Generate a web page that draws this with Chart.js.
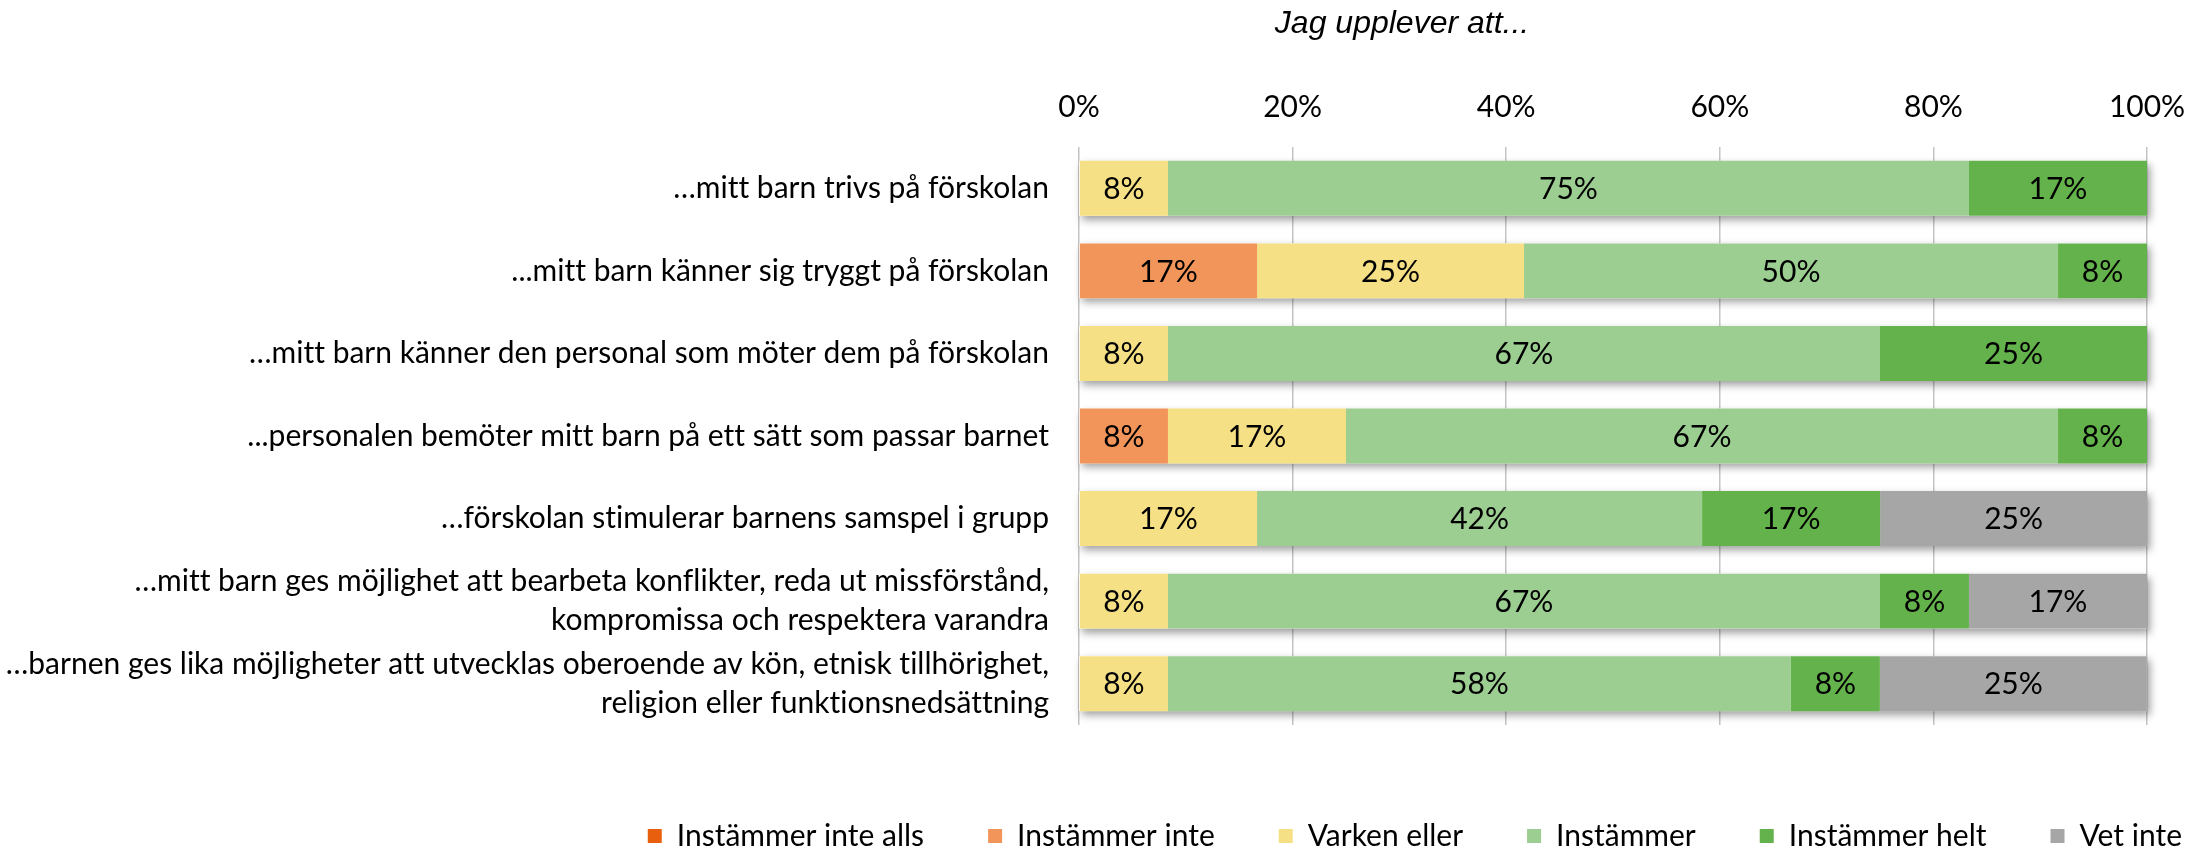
<!DOCTYPE html>
<html>
<head>
<meta charset="utf-8">
<script src="https://cdn.jsdelivr.net/npm/chart.js@4/dist/chart.umd.min.js"></script>
<style>
  body { margin: 0; background: #fff; }
  #wrap { width: 2200px; height: 847px; position: relative; }
  canvas { font-variant-ligatures: none; }
</style>
</head>
<body>
<div id="wrap"><canvas id="likertChart"></canvas></div>
<script>
// Data
const categories = [
  '…mitt barn trivs på förskolan',
  '...mitt barn känner sig tryggt på förskolan',
  '…mitt barn känner den personal som möter dem på förskolan',
  '...personalen bemöter mitt barn på ett sätt som passar barnet',
  '…förskolan stimulerar barnens samspel i grupp',
  ['…mitt barn ges möjlighet att bearbeta konflikter, reda ut missförstånd,', 'kompromissa och respektera varandra'],
  ['…barnen ges lika möjligheter att utvecklas oberoende av kön, etnisk tillhörighet,', 'religion eller funktionsnedsättning']
];
const seriesNames = ['Instämmer inte alls', 'Instämmer inte', 'Varken eller', 'Instämmer', 'Instämmer helt', 'Vet inte'];
const instammerInteAlls = [0, 0, 0, 0, 0, 0, 0];
const instammerInte     = [0, 16.67, 0, 8.33, 0, 0, 0];
const varkenEller       = [8.33, 25, 8.33, 16.67, 16.67, 8.33, 8.33];
const instammer         = [75, 50, 66.67, 66.67, 41.67, 66.67, 58.33];
const instammerHelt     = [16.67, 8.33, 25, 8.33, 16.67, 8.33, 8.33];
const vetInte           = [0, 0, 0, 0, 25, 16.67, 25];
const xTicks = [0, 20, 40, 60, 80, 100];
const chartTitle = 'Jag upplever att...';

const colors = ['#E8600E', '#F2955B', '#F6E086', '#9CCD91', '#64B24C', '#A6A6A6'];
const seriesData = [instammerInteAlls, instammerInte, varkenEller, instammer, instammerHelt, vetInte];
const labelFont = "Lato, 'Open Sans', sans-serif";

// soft shadow under each whole bar row
const barShadow = {
  id: 'barShadow',
  beforeDatasetsDraw(chart) {
    const ctx = chart.ctx;
    const metas = chart.getSortedVisibleDatasetMetas();
    ctx.save();
    ctx.shadowColor = 'rgba(0,0,0,0.38)';
    ctx.shadowBlur = 8;
    ctx.shadowOffsetX = 3;
    ctx.shadowOffsetY = 4;
    ctx.fillStyle = '#ffffff';
    categories.forEach((c, i) => {
      let left = Infinity, right = -Infinity, top = 0, h = 0;
      metas.forEach(m => {
        const el = m.data[i];
        if (!el) return;
        const props = el.getProps(['x', 'y', 'base', 'height'], true);
        left = Math.min(left, props.base, props.x);
        right = Math.max(right, props.base, props.x);
        top = props.y - props.height / 2;
        h = props.height;
      });
      ctx.fillRect(left, top, right - left, h);
    });
    ctx.restore();
  }
};

// value labels inside segments
const segmentLabels = {
  id: 'segmentLabels',
  afterDatasetsDraw(chart) {
    const ctx = chart.ctx;
    ctx.save();
    ctx.font = '30px ' + labelFont;
    ctx.fillStyle = '#000';
    ctx.textAlign = 'center';
    ctx.textBaseline = 'middle';
    chart.data.datasets.forEach((ds, di) => {
      const meta = chart.getDatasetMeta(di);
      meta.data.forEach((el, i) => {
        const v = ds.data[i];
        if (!v) return;
        const p = el.getCenterPoint();
        ctx.fillText(Math.round(v) + '%', p.x, p.y + 1);
      });
    });
    ctx.restore();
  }
};

// title sits off-centre like the original
const sideTitle = {
  id: 'sideTitle',
  afterDraw(chart) {
    const ctx = chart.ctx;
    ctx.save();
    ctx.font = "italic 32px 'Liberation Sans Narrow', 'Liberation Sans', Arial, sans-serif";
    ctx.fillStyle = '#000';
    ctx.textAlign = 'center';
    ctx.textBaseline = 'middle';
    ctx.fillText(chartTitle, chart.width * 0.6373, 24);
    ctx.restore();
  }
};

const ctxLikert = document.getElementById('likertChart').getContext('2d');
ctxLikert.textRendering = 'optimizeSpeed';

const likertChart = new Chart(ctxLikert, {
  type: 'bar',
  data: {
    labels: categories,
    datasets: seriesNames.map((name, k) => ({
      label: name,
      data: seriesData[k],
      backgroundColor: colors[k],
      borderWidth: 0,
      barPercentage: 0.665,
      categoryPercentage: 1
    }))
  },
  plugins: [barShadow, segmentLabels, sideTitle],
  options: {
    indexAxis: 'y',
    responsive: true,
    maintainAspectRatio: false,
    animation: false,
    layout: {
      padding: { top: 60, left: 0, right: -46, bottom: -14 }
    },
    plugins: {
      title: { display: false },
      tooltip: { enabled: false },
      legend: {
        position: 'bottom',
        align: 'end',
        labels: {
          boxWidth: 14,
          boxHeight: 14,
          padding: 64,
          color: '#000',
          font: { family: labelFont, size: 30 }
        }
      }
    },
    scales: {
      x: {
        position: 'top',
        stacked: true,
        min: 0,
        max: 100,
        afterBuildTicks: s => { s.ticks = xTicks.map(v => ({ value: v })); },
        afterFit: s => { s.height = 87; s.paddingRight = 0; s.paddingLeft = 0; },
        ticks: {
          padding: 22,
          color: '#000',
          font: { family: labelFont, size: 30 },
          callback: v => v + '%'
        },
        grid: { color: '#c4c4c4', lineWidth: 1.5, drawTicks: false },
        border: { display: false }
      },
      y: {
        stacked: true,
        afterFit: s => { s.width = 1079; },
        ticks: {
          padding: 30,
          color: '#000',
          font: { family: labelFont, size: 30, lineHeight: 1.3 }
        },
        grid: { display: false, drawTicks: false },
        border: { display: false }
      },
      yRight: {
        type: 'linear',
        position: 'right',
        display: true,
        afterFit: s => { s.width = 99; },
        ticks: { display: false },
        grid: { display: false, drawTicks: false },
        border: { display: false }
      },
      xBottom: {
        type: 'linear',
        position: 'bottom',
        display: true,
        afterFit: s => { s.height = 32; },
        ticks: { display: false },
        grid: { display: false, drawTicks: false },
        border: { display: false }
      }
    }
  }
});
</script>
</body>
</html>
